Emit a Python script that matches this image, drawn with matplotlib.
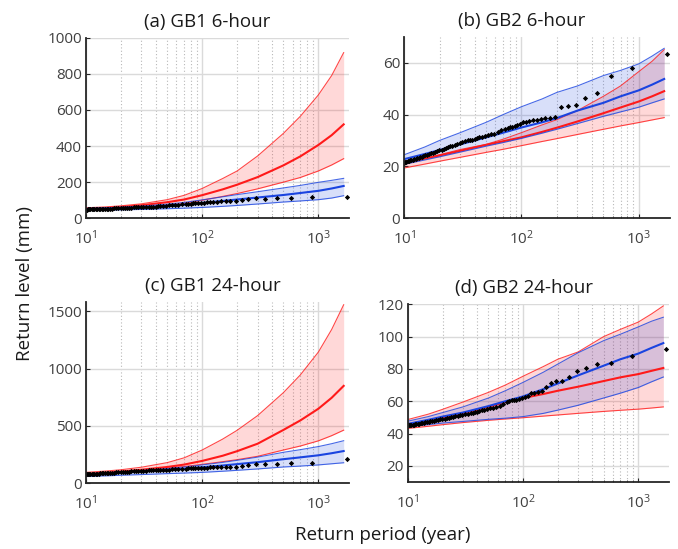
import numpy as np
import matplotlib.pyplot as plt
from matplotlib.ticker import FixedLocator, NullFormatter

plt.rcParams['font.family'] = ['Open Sans', 'DejaVu Sans']

# return periods (years) at which the fitted curves are evaluated
T_fit = [10, 15, 20, 30, 50, 70, 100, 150, 200, 300, 500, 700, 1000, 1300, 1650]

# empirical points: rank of each annual maximum within the record
n_years = 1750
ranks = list(range(1, 25)) + list(range(26, 51, 2)) + list(range(53, 81, 3)) + list(range(84, 177, 4))
T_obs = n_years / np.array(ranks)

# (a) GB1 6-hour
a_red_hi = [58, 63, 69, 80, 103, 127, 165, 220, 262, 345, 470, 565, 683, 790, 917]
a_red_mid = [52, 57, 62, 72, 89, 104, 128, 160, 186, 228, 293, 343, 406, 460, 520]
a_red_lo = [48, 52, 56, 62, 73, 83, 100, 121, 137, 163, 200, 226, 262, 295, 330]
a_blue_hi = [55, 58, 61, 67, 78, 88, 102, 119, 131, 147, 168, 182, 199, 210, 221]
a_blue_mid = [50, 53, 56, 60, 67, 75, 85, 96, 104, 115, 129, 140, 152, 165, 179]
a_blue_lo = [44, 45, 47, 49, 53, 56, 60, 66, 71, 79, 90, 96, 103, 112, 125]
a_obs = [120, 119, 111, 115, 108, 111, 105, 100, 96, 96, 95, 93,
         92, 90, 89, 88, 87, 85, 84, 83, 82, 81, 80, 79,
         77, 76, 74, 73, 72, 70, 69, 67, 66, 65, 64.5, 64, 63.5,
         63, 62, 61.5, 61, 60.5, 60, 59.5, 59, 58, 57.5,
         57, 56, 55.5, 55, 54.5, 54, 53.5, 53, 52.5, 52, 52, 51.5,
         51, 51, 50.5, 50.5, 50, 50, 49.5, 49.5, 49, 49, 48.5, 48.5]

# (b) GB2 6-hour
b_red_hi = [22, 23.2, 24.5, 26.5, 28.5, 30.5, 33, 36, 38, 41.5, 47, 51, 56.5, 60.5, 65]
b_red_mid = [21.3, 23, 24.2, 26, 28.3, 29.7, 31.2, 33.3, 34.9, 37.3, 40.5, 42.7, 45, 47, 49]
b_red_lo = [19.4, 20.9, 22, 23.5, 25.4, 26.6, 28, 29.6, 30.7, 32.3, 34.3, 35.6, 36.9, 37.9, 38.8]
b_blue_hi = [24.5, 27.5, 30, 33, 37, 40, 43, 46, 48.5, 51, 55, 57, 59.5, 62.5, 65.5]
b_blue_mid = [22.8, 24.8, 26.3, 28.5, 31.2, 33, 35, 37, 38.6, 41.5, 44.5, 47, 49.3, 51.5, 53.7]
b_blue_lo = [20.8, 22.5, 23.7, 25.5, 27.8, 29.2, 30.8, 32.8, 34.3, 36.5, 39.3, 41, 42.8, 44.5, 46]
b_obs = [63.5, 57.8, 54.8, 48.1, 46.4, 43.5, 43.2, 43, 39, 38.7, 38.5, 38.2,
         38, 37.8, 37.6, 37.3, 37, 36.4, 35.9, 35.5, 35.2, 35, 34.8, 34.6,
         34, 33.2, 32.6, 32.4, 32, 31.7, 31.5, 31.2, 30.9, 30.6, 30.3, 30.1, 30,
         29.8, 29.5, 29.2, 28.8, 28.4, 28, 27.7, 27.4, 27.1, 26.8,
         26.5, 26.2, 25.9, 25.6, 25.3, 25, 24.7, 24.5, 24.3, 24, 23.8, 23.6,
         23.4, 23.2, 23, 22.8, 22.6, 22.4, 22.3, 22.1, 22, 21.8, 21.7, 21.5]

# (c) GB1 24-hour
c_red_hi = [95, 107, 118, 140, 180, 222, 290, 385, 462, 590, 790, 945, 1144, 1340, 1556]
c_red_mid = [80, 92, 102, 118, 142, 163, 195, 240, 280, 345, 465, 548, 650, 745, 849]
c_red_lo = [72, 86, 97, 112, 132, 146, 165, 188, 206, 235, 290, 325, 370, 415, 463]
c_blue_hi = [82, 91, 99, 111, 128, 142, 160, 182, 200, 228, 270, 293, 320, 345, 371]
c_blue_mid = [74, 84, 92, 103, 117, 127, 140, 155, 167, 184, 210, 226, 244, 262, 281]
c_blue_lo = [60, 65, 70, 76, 84, 89, 95, 105, 113, 125, 142, 150, 160, 170, 179]
c_obs = [211, 180, 174, 171, 168, 165, 159, 151, 145, 145, 144, 143,
         141, 139, 138, 137, 136, 134, 133, 132, 131, 130, 129, 128,
         126, 124, 123, 122, 120, 119, 118, 117, 116, 115, 114, 113, 112,
         111, 110, 108, 107, 106, 104, 103, 102, 101, 100,
         98, 96, 95, 94, 93, 92, 91, 90, 89, 88, 87, 86,
         85.5, 85, 84, 83.5, 83, 82, 81.5, 81, 80, 79.5, 79, 78.5]

# (d) GB2 24-hour
d_red_hi = [48.7, 52, 55, 59.5, 65.5, 70, 75.5, 81.5, 86, 90.5, 100, 104.5, 109, 114, 119]
d_red_mid = [45.7, 48, 50, 52.5, 56.5, 59.5, 62, 64.5, 66.5, 69, 72.5, 74.8, 76.8, 78.8, 80.6]
d_red_lo = [43.2, 44.5, 45.5, 46.8, 48.2, 49, 49.8, 50.8, 51.5, 52.5, 53.7, 54.4, 55.1, 55.8, 56.5]
d_blue_hi = [47.7, 50.5, 53, 56.5, 62, 66.5, 71.7, 78, 83, 90, 97.5, 101.5, 106, 109.5, 112]
d_blue_mid = [46, 48.5, 50.5, 53, 57, 60, 63, 67.5, 71, 76, 82, 86, 89.5, 93, 96]
d_blue_lo = [44.6, 45.5, 46.5, 47.5, 48.8, 49.5, 50.5, 52.5, 54.5, 57.5, 62, 65, 68.5, 72, 75]
d_obs = [92.5, 87.8, 83.7, 83, 80.6, 78.9, 75, 72.8, 72.4, 71.3, 68.7, 66.2,
         65.6, 65.3, 65, 63.5, 62.5, 61.8, 61.3, 61, 60.7, 60.5, 60.2, 59.8,
         58.5, 57.3, 56.6, 56.1, 55.6, 55.1, 54.7, 54.3, 53.9, 53.6, 53.3, 53, 52.7,
         52.4, 52, 51.6, 51.3, 51, 50.7, 50.4, 50.1, 49.8, 49.5,
         49.2, 49, 48.7, 48.4, 48.2, 47.9, 47.7, 47.5, 47.3, 47.1, 46.9, 46.7,
         46.5, 46.4, 46.2, 46.1, 45.9, 45.8, 45.6, 45.5, 45.4, 45.3, 45.2, 45]

panels = [
    dict(title='(a) GB1 6-hour', tx=0.46, rect=[0.1268, 0.6024, 0.3886, 0.329],
         ylim=(0, 1000), yticks=[0, 200, 400, 600, 800, 1000],
         red=(a_red_lo, a_red_mid, a_red_hi), blue=(a_blue_lo, a_blue_mid, a_blue_hi), obs=a_obs),
    dict(title='(b) GB2 6-hour', tx=0.44, rect=[0.5963, 0.6024, 0.3919, 0.3308],
         ylim=(0, 70), yticks=[0, 20, 40, 60],
         red=(b_red_lo, b_red_mid, b_red_hi), blue=(b_blue_lo, b_blue_mid, b_blue_hi), obs=b_obs),
    dict(title='(c) GB1 24-hour', tx=0.48, rect=[0.1268, 0.1197, 0.3886, 0.3302],
         ylim=(0, 1580), yticks=[0, 500, 1000, 1500],
         red=(c_red_lo, c_red_mid, c_red_hi), blue=(c_blue_lo, c_blue_mid, c_blue_hi), obs=c_obs),
    dict(title='(d) GB2 24-hour', tx=0.445, rect=[0.6018, 0.122, 0.385, 0.3237],
         ylim=(10, 120), yticks=[20, 40, 60, 80, 100, 120],
         red=(d_red_lo, d_red_mid, d_red_hi), blue=(d_blue_lo, d_blue_mid, d_blue_hi), obs=d_obs),
]

red = '#ff1a1a'
blue = '#1a44e0'
minor_x = [20, 30, 40, 50, 60, 70, 80, 90, 200, 300, 400, 500, 600, 700, 800, 900]

fig = plt.figure(figsize=(6.78, 5.49), dpi=100)

for p in panels:
    ax = fig.add_axes(p['rect'])
    ax.set_xscale('log')

    lo, mid, hi = p['red']
    ax.fill_between(T_fit, lo, hi, color=red, alpha=0.17, lw=0)
    blo, bmid, bhi = p['blue']
    ax.fill_between(T_fit, blo, bhi, color=blue, alpha=0.17, lw=0)

    for c, (l, m, h) in ((red, p['red']), (blue, p['blue'])):
        ax.plot(T_fit, l, color=c, lw=0.8, alpha=0.8)
        ax.plot(T_fit, h, color=c, lw=0.8, alpha=0.8)
        ax.plot(T_fit, m, color=c, lw=1.5)

    ax.plot(T_obs, p['obs'], 'D', color='k', ms=2.7, mew=0)

    ax.set_xlim(10, 1850)
    ax.set_ylim(*p['ylim'])
    ax.set_yticks(p['yticks'])
    ax.set_xticks([10, 100, 1000])
    ax.xaxis.set_minor_locator(FixedLocator(minor_x))
    ax.xaxis.set_minor_formatter(NullFormatter())

    ax.grid(True, which='major', color='#dadada', lw=1.0)
    ax.grid(True, which='minor', axis='x', color='#b8b8b8', lw=0.8, ls=(0, (1, 2)))
    ax.set_axisbelow(True)

    for s in ('top', 'right'):
        ax.spines[s].set_visible(False)
    for s in ('left', 'bottom'):
        ax.spines[s].set_linewidth(1.3)
        ax.spines[s].set_color('#262626')

    ax.tick_params(which='both', direction='in', colors='#262626',
                   labelcolor='#404040', labelsize=11)
    ax.tick_params(which='major', length=3, pad=3)
    ax.tick_params(which='minor', length=1.5)
    ax.tick_params(axis='x', pad=8)

    ax.set_title(p['title'], x=p['tx'], pad=8, fontsize=13.5, color='#1a1a1a')

fig.text(0.037, 0.483, 'Return level (mm)', rotation=90, ha='center', va='center',
         fontsize=13.5, color='#1a1a1a')
fig.text(0.565, 0.026, 'Return period (year)', ha='center', va='center',
         fontsize=13.5, color='#1a1a1a')

fig.savefig('out.png', dpi=100)
